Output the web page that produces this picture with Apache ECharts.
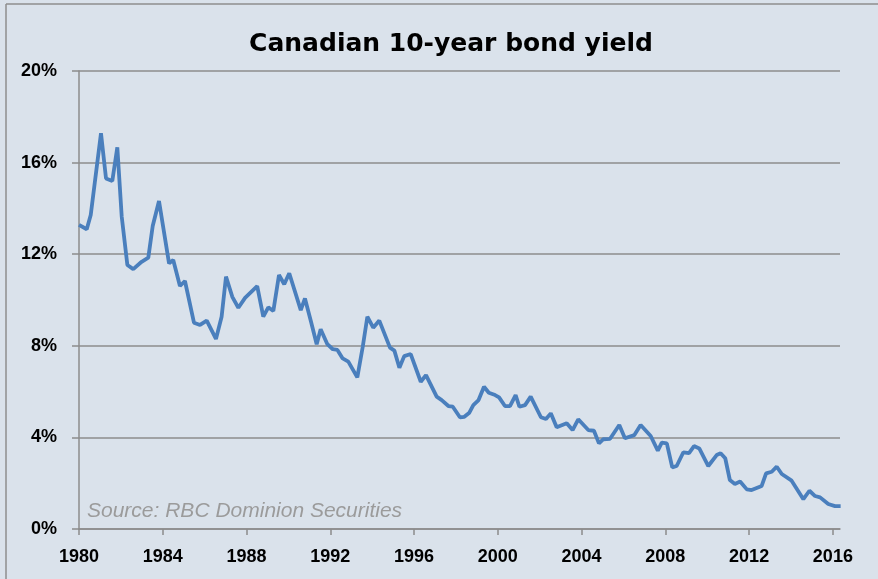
<!DOCTYPE html>
<html>
<head>
<meta charset="utf-8">
<script src="https://cdn.jsdelivr.net/npm/echarts@6/dist/echarts.min.js"></script>
<style>
html,body{margin:0;padding:0;background:#dae2eb;}
#chart{width:878px;height:579px;}
</style>
</head>
<body>
<div id="chart"></div>
<script>
var years = [
1980.00,1980.37,1980.56,1981.05,1981.29,1981.59,1981.83,1982.04,1982.31,1982.59,
1982.99,1983.31,1983.52,1983.82,1984.30,1984.50,1984.82,1985.06,1985.49,1985.78,
1986.10,1986.54,1986.81,1987.02,1987.32,1987.61,1987.93,1988.51,1988.80,1989.04,
1989.28,1989.55,1989.80,1990.04,1990.59,1990.79,1991.08,1991.35,1991.54,1991.86,
1992.12,1992.34,1992.59,1992.86,1993.29,1993.55,1993.77,1994.05,1994.34,1994.85,
1995.06,1995.30,1995.53,1995.84,1996.32,1996.57,1997.08,1997.32,1997.64,1997.85,
1998.19,1998.40,1998.64,1998.83,1999.08,1999.34,1999.57,1999.87,2000.06,2000.34,
2000.58,2000.85,2001.03,2001.30,2001.57,2002.06,2002.30,2002.53,2002.81,2003.29,
2003.57,2003.84,2004.32,2004.59,2004.83,2005.04,2005.36,2005.80,2006.07,2006.52,
2006.82,2007.30,2007.64,2007.83,2008.07,2008.33,2008.54,2008.86,2009.13,2009.37,
2009.62,2010.05,2010.45,2010.64,2010.86,2011.08,2011.32,2011.57,2011.89,2012.12,
2012.60,2012.81,2013.08,2013.32,2013.56,2014.03,2014.59,2014.88,2015.15,2015.39,
2015.78,2016.10,2016.37
];
// Canadian 10-year bond yield, percent
var yields = [
13.28,13.09,13.71,17.28,15.31,15.20,16.67,13.64,11.53,11.35,
11.67,11.85,13.23,14.32,11.60,11.75,10.61,10.83,9.01,8.91,
9.10,8.30,9.27,11.02,10.14,9.66,10.09,10.61,9.27,9.68,
9.52,11.09,10.69,11.17,9.56,10.07,9.05,8.07,8.72,8.07,
7.85,7.82,7.45,7.31,6.62,7.96,9.27,8.79,9.10,7.92,
7.79,7.04,7.55,7.64,6.43,6.72,5.78,5.63,5.37,5.34,
4.88,4.90,5.08,5.41,5.63,6.21,5.95,5.85,5.75,5.37,
5.37,5.85,5.34,5.41,5.78,4.88,4.80,5.05,4.44,4.62,
4.32,4.79,4.32,4.29,3.74,3.92,3.94,4.54,3.96,4.10,
4.54,4.06,3.42,3.77,3.74,2.69,2.75,3.35,3.31,3.62,
3.52,2.75,3.23,3.31,3.09,2.14,1.97,2.07,1.73,1.70,
1.88,2.43,2.50,2.72,2.40,2.11,1.30,1.67,1.44,1.38,
1.09,1.00,1.00
];
var xTicks = [1980,1984,1988,1992,1996,2000,2004,2008,2012,2016];
var yTicks = [0,4,8,12,16,20];
var titleText = 'Canadian 10-year bond yield';
var sourceText = 'Source: RBC Dominion Securities';

var seriesData = years.map(function(y, i){ return [y, yields[i]]; });

var chart = echarts.init(document.getElementById('chart'), null, {renderer:'canvas'});
var gridCol = '#8c8c8c';
chart.setOption({
  backgroundColor: '#dae2eb',
  animation: false,
  title: {
    text: titleText,
    left: 446, top: 27, textAlign: 'center',
    textStyle: {fontFamily: 'DejaVu Sans', fontWeight: 'bold', fontSize: 25, color: '#000'}
  },
  grid: {left: 79, right: 38, top: 71, bottom: 50, containLabel: false},
  xAxis: {
    type: 'value',
    min: 1980, max: 2016.34, interval: 4,
    axisLine: {show: true, lineStyle: {color: gridCol, width: 1.5}},
    axisTick: {show: true, length: 6, customValues: xTicks, lineStyle: {color: gridCol, width: 1.5}},
    axisLabel: {
      customValues: xTicks,
      margin: 19,
      fontFamily: 'Liberation Sans', fontWeight: 'bold', fontSize: 18, color: '#000',
      formatter: function(v){ return xTicks.indexOf(Math.round(v*100)/100) >= 0 ? String(Math.round(v)) : ''; }
    },
    splitLine: {show: false}
  },
  yAxis: {
    type: 'value',
    min: 0, max: 20, interval: 4,
    axisLine: {show: true, lineStyle: {color: gridCol, width: 1.5}},
    axisTick: {show: true, length: 7, lineStyle: {color: gridCol, width: 1.5}},
    axisLabel: {
      margin: 22,
      fontFamily: 'Liberation Sans', fontWeight: 'bold', fontSize: 18, color: '#000',
      formatter: function(v){ return yTicks.indexOf(v) >= 0 ? v + '%' : ''; }
    },
    splitLine: {show: true, lineStyle: {color: gridCol, width: 1.5}}
  },
  graphic: [
    {type: 'line', shape: {x1: 6, y1: 4, x2: 878, y2: 4}, style: {stroke: '#8e8e8e', lineWidth: 1.5}, silent: true},
    {type: 'line', shape: {x1: 6, y1: 4, x2: 6, y2: 579}, style: {stroke: '#8e8e8e', lineWidth: 1.5}, silent: true},
    {type: 'text', left: 87, top: 501, style: {text: sourceText, fontFamily: 'Liberation Sans', fontStyle: 'italic', fontSize: 21, fill: '#9b9b9b'}, silent: true}
  ],
  series: [{
    type: 'line',
    data: seriesData,
    showSymbol: false,
    symbol: 'none',
    lineStyle: {color: '#4a7fbd', width: 3.8},
    itemStyle: {color: '#4a7fbd'}
  }]
});
</script>
</body>
</html>
